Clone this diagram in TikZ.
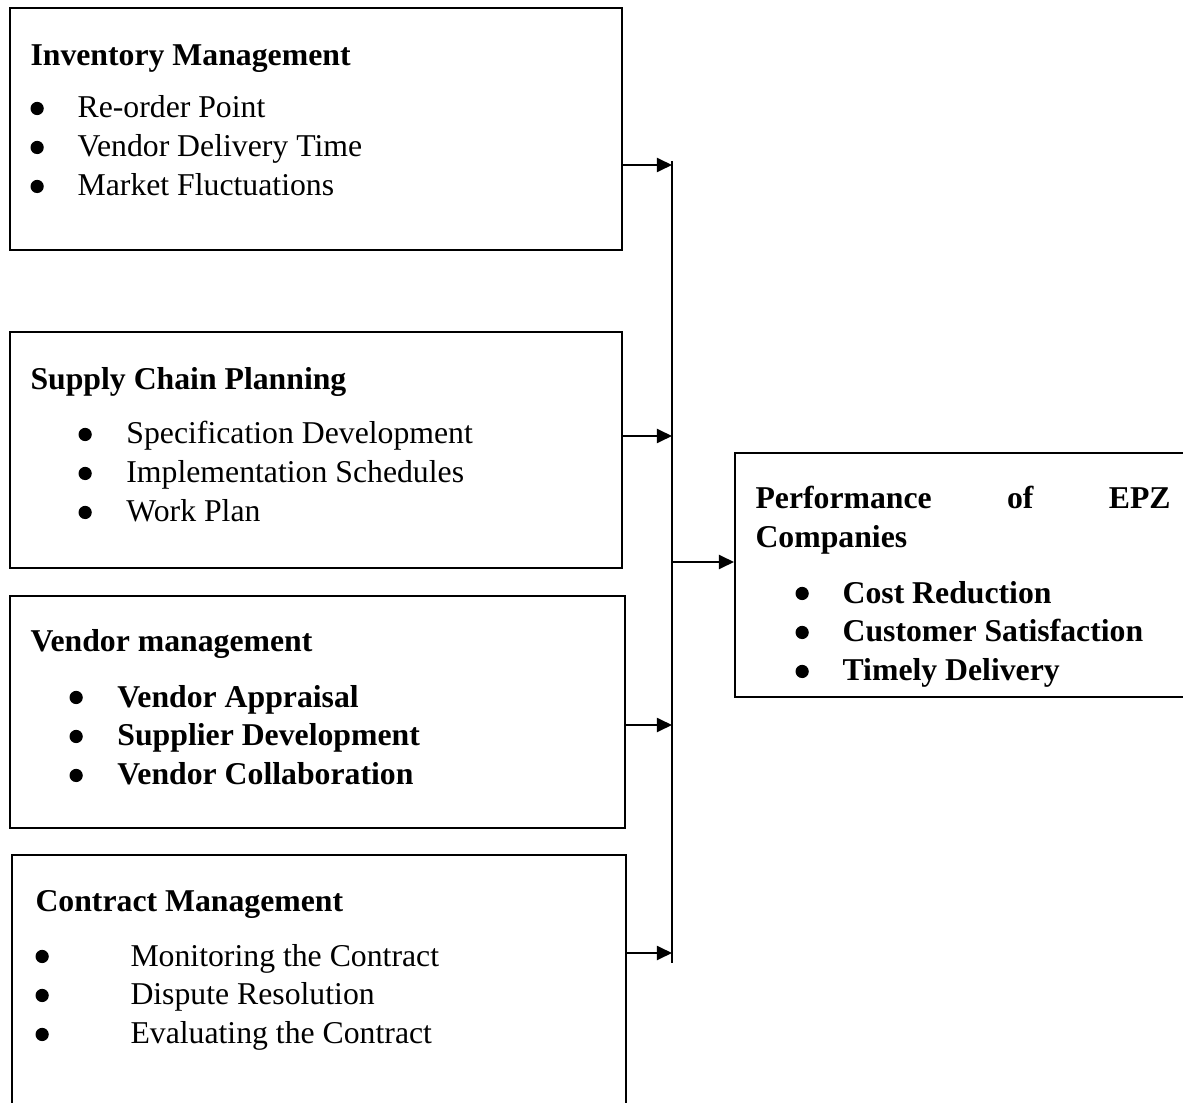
\documentclass[tikz,border=0pt]{standalone}
\usepackage{fontspec}
\setmainfont{Liberation Serif}
\usepackage{tikz}
\usetikzlibrary{positioning,fit,arrows.meta}
\newcommand{\blt}{\tikz[baseline=-3.6pt]\fill (0,0) circle (2.5pt);}

\begin{document}
\begin{tikzpicture}[x=0.378pt, y=-0.378pt,
    lbl/.style = {inner sep=0pt, anchor=base west, font=\fontsize{12}{14.74}\selectfont},
    head/.style = {lbl, font=\fontsize{12}{14.74}\selectfont\bfseries},
    box/.style = {draw, line width=0.75pt, inner sep=0pt, anchor=center},
    link/.style = {line width=0.75pt, -{Triangle[length=5.7pt,width=5.3pt]}}]
    \useasboundingbox (0,0) rectangle (1183,1103);
    % the five boxes
    \node[box, fit={(10,8) (622,250)}] (inv) {};
    \node[box, fit={(10,332) (622,568)}] (supp) {};
    \node[box, fit={(10,596) (625,828)}] (vend) {};
    \node[box, fit={(12,855) (626,1130)}] (cont) {};
    \node[box, fit={(735,453) (1200,697)}] (perf) {};
    % texts
    \node[head] (invh) at (30,66) {Inventory Management};
    \node[lbl] (invl) at (30,118) {\begin{tabular}[t]{@{}p{17.8pt}@{}l@{}}
      \blt&Re-order Point\\\blt&Vendor Delivery Time\\\blt&Market Fluctuations\end{tabular}};
    \node[head] (supph) at (30,390) {Supply Chain Planning};
    \node[lbl] (suppl) at (78,444) {\begin{tabular}[t]{@{}p{18.1pt}@{}l@{}}
      \blt&Specification Development\\\blt&Implementation Schedules\\\blt&Work Plan\end{tabular}};
    \node[head] (vendh) at (30,651) {Vendor management};
    \node[head] (vendl) at (69,707) {\begin{tabular}[t]{@{}p{18.1pt}@{}l@{}}
      \blt&Vendor Appraisal\\\blt&Supplier Development\\\blt&Vendor Collaboration\end{tabular}};
    \node[head] (conth) at (35,911) {Contract Management};
    \node[lbl] (contl) at (35,966) {\begin{tabular}[t]{@{}p{35.9pt}@{}l@{}}
      \blt&Monitoring the Contract\\\blt&Dispute Resolution\\\blt&Evaluating the Contract\end{tabular}};
    \node[head] (perfh) at (755,509) {\begin{tabular}[t]{@{}l@{}}
      \makebox[156.9pt][s]{Performance of EPZ}\\Companies\end{tabular}};
    \node[head] (perfl) at (795,603) {\begin{tabular}[t]{@{}p{17.8pt}@{}l@{}}
      \blt&Cost Reduction\\\blt&Customer Satisfaction\\\blt&Timely Delivery\end{tabular}};
    % bus and arrows
    \coordinate (bt) at (672,161);
    \coordinate (bb) at (672,963);
    \coordinate (b1) at (672,165);
    \coordinate (b2) at (672,436);
    \coordinate (b3) at (672,725);
    \coordinate (b4) at (672,953);
    \coordinate (bp) at (672,562);
    \draw[line width=0.75pt] (bt) -- (bb);
    \draw[link] (inv.east |- b1) -- (b1);
    \draw[link] (supp.east |- b2) -- (b2);
    \draw[link] (vend.east |- b3) -- (b3);
    \draw[link] (cont.east |- b4) -- (b4);
    \draw[link] (bp) -- (perf.west |- bp);
\end{tikzpicture}
\end{document}
